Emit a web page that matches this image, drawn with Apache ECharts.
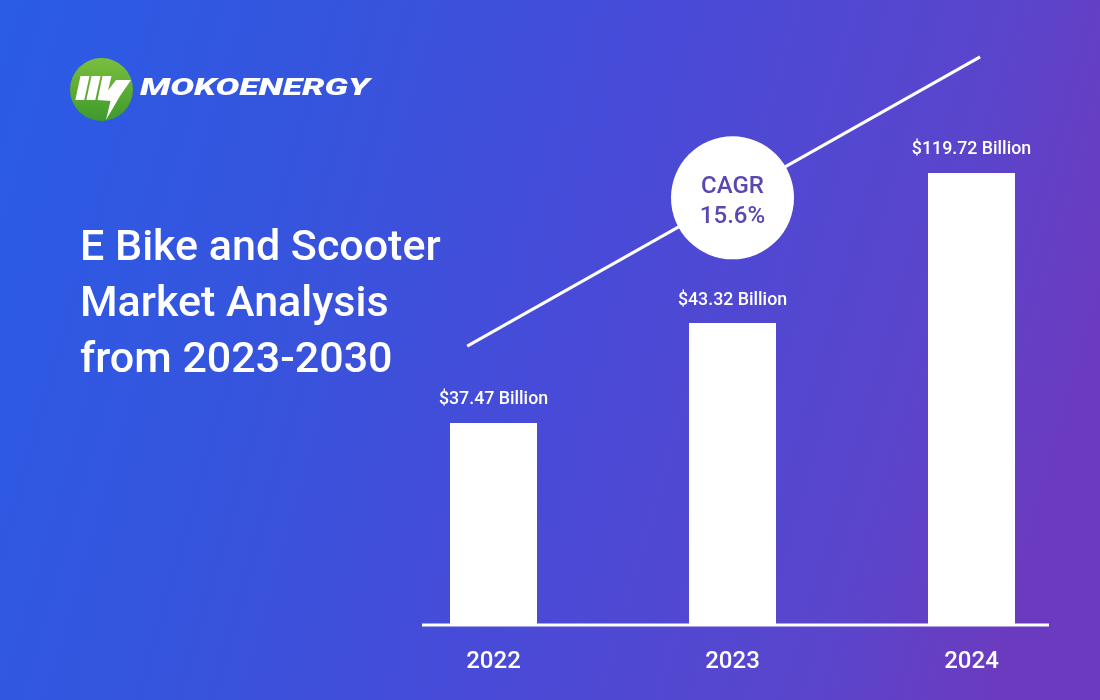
<!DOCTYPE html>
<html>
<head>
<meta charset="utf-8">
<script src="https://cdn.jsdelivr.net/npm/echarts@6/dist/echarts.min.js"></script>
<style>html,body{margin:0;padding:0;}#chart{width:1100px;height:700px;}</style>
</head>
<body>
<div id="chart"></div>
<script>
// ---- data ----
const years = ['2022', '2023', '2024'];
const marketValues = [37.47, 43.32, 119.72];          // USD billion (bar labels)
const barHeights = [44.7, 66.8, 100];                 // drawn bar heights, % of tallest bar
const trendLine = [[-0.11, 61.7], [2.036, 125.7]];    // CAGR arrow line (category index, % height)
const cagrPoint = [[1.0, 94.5]];                      // CAGR badge on the trend line
const cagrText = ['CAGR', '15.6%'];
const titleLines = ['E Bike and Scooter', 'Market Analysis', 'from 2023-2030'];
const brand = 'MOKOENERGY';

const FONT = 'Roboto, "Noto Sans", sans-serif';
const chart = echarts.init(document.getElementById('chart'));

const option = {
  backgroundColor: {
    type: 'linear', x: 0, y: 0, x2: 1, y2: 0.45,
    colorStops: [
      { offset: 0, color: '#2a5ce6' },
      { offset: 0.3, color: '#3654dd' },
      { offset: 0.55, color: '#474bd8' },
      { offset: 0.85, color: '#5a45cc' },
      { offset: 1, color: '#6b3bbf' }
    ]
  },
  animation: false,
  title: {
    text: titleLines.join('\n'),
    left: 75, top: 216,
    textStyle: { color: '#ffffff', fontSize: 43, fontWeight: 500, lineHeight: 56, fontFamily: FONT }
  },
  grid: { left: 374, right: 9, top: 37.4, bottom: 75 },
  xAxis: [
    {
      type: 'category', data: years,
      axisLine: { show: false }, axisTick: { show: false },
      axisLabel: { color: '#ffffff', fontSize: 24, fontWeight: 500, fontFamily: FONT, margin: 25 }
    },
    { type: 'value', min: -0.5, max: 2.5, show: false }
  ],
  yAxis: { type: 'value', min: 0, max: 130, show: false },
  series: [
    {
      type: 'bar', xAxisIndex: 0,
      data: barHeights, barWidth: 87,
      itemStyle: { color: '#ffffff' },
      label: {
        show: true, position: 'top', distance: 14,
        formatter: p => '$' + marketValues[p.dataIndex].toFixed(2) + ' Billion',
        color: '#ffffff', fontSize: 17.8, fontWeight: 500, fontFamily: FONT
      }
    },
    {
      type: 'line', xAxisIndex: 1, data: trendLine,
      symbol: 'none', lineStyle: { color: '#ffffff', width: 3 }, z: 3
    },
    {
      type: 'scatter', xAxisIndex: 1, data: cagrPoint,
      symbolSize: 123, itemStyle: { color: '#ffffff', opacity: 1 }, z: 5,
      label: {
        show: true, position: 'inside', offset: [0, 4], formatter: cagrText.join('\n'),
        color: '#5b47b0', fontSize: 24, fontWeight: 500, lineHeight: 30, fontFamily: FONT
      }
    }
  ],
  graphic: [
    { type: 'line', shape: { x1: 422, y1: 625, x2: 1049, y2: 625 }, style: { stroke: '#ffffff', lineWidth: 3 }, z: 10 },
    {
      type: 'circle', shape: { cx: 101.5, cy: 89.5, r: 31.5 },
      style: { fill: { type: 'linear', x: 0, y: 0, x2: 0, y2: 1, colorStops: [{ offset: 0, color: '#7cbe3c' }, { offset: 1, color: '#3d9a2c' }] } }
    },
    { type: 'polygon', shape: { points: [[80.5, 76], [89.5, 76], [84.3, 100], [75.3, 100]] }, style: { fill: '#ffffff' } },
    { type: 'polygon', shape: { points: [[91.5, 76], [100.5, 76], [95.3, 100], [86.3, 100]] }, style: { fill: '#ffffff' } },
    { type: 'polygon', shape: { points: [[102.5, 76], [111.5, 76], [108, 90.5], [116, 80], [131, 80], [120, 96], [106, 120], [110.5, 101], [97.5, 100]] }, style: { fill: '#ffffff' } },
    {
      type: 'text', x: 140, y: 89, scaleX: 1.48,
      style: { text: brand, fill: '#ffffff', font: 'italic 900 24px ' + FONT, textVerticalAlign: 'middle', verticalAlign: 'middle' }
    }
  ]
};
chart.setOption(option);
</script>
</body>
</html>
